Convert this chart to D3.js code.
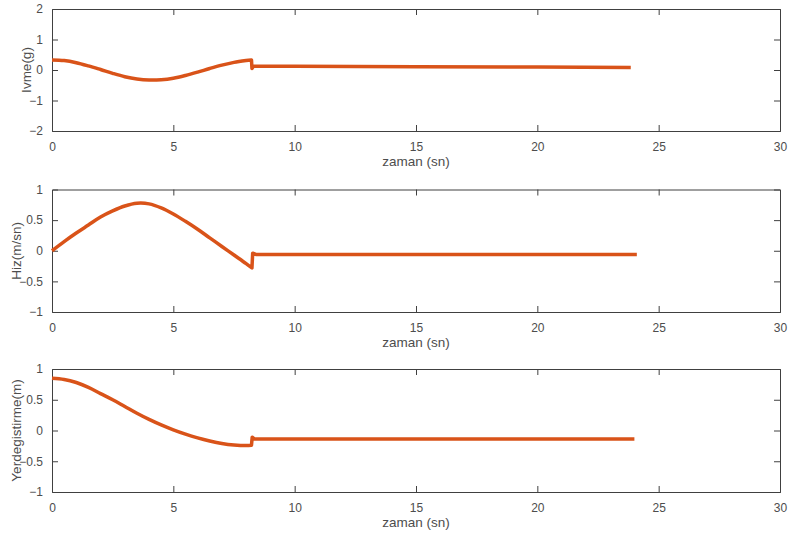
<!DOCTYPE html>
<html>
<head>
<meta charset="utf-8">
<script src="https://cdn.jsdelivr.net/npm/d3@7"></script>
<style>
  body { margin: 0; background: #fff; }
  text { font-family: "Liberation Sans", Arial, sans-serif; }
</style>
</head>
<body>
<div id="chart"></div>
<script>
// time axis
const xTicks = [0, 5, 10, 15, 20, 25, 30];

// Ivme (acceleration, g)
const accT = [0, 0.5, 1, 1.5, 2, 2.5, 3, 3.5, 4, 4.5, 5, 5.5, 6, 6.5, 7, 7.5, 8, 8.22, 8.24, 8.3, 10, 15, 20, 23.85];
const accV = [0.33, 0.31, 0.24, 0.135, 0.015, -0.11, -0.22, -0.295, -0.33, -0.32, -0.27, -0.18, -0.07, 0.05, 0.16, 0.25, 0.31, 0.33, 0.05, 0.12, 0.12, 0.11, 0.1, 0.08];

// Hiz (velocity, m/sn)
const velT = [0, 0.5, 1, 1.5, 2, 2.5, 3, 3.5, 4, 4.5, 5, 5.5, 6, 6.5, 7, 7.5, 8, 8.24, 8.27, 8.4, 15, 24.1];
const velV = [0.0, 0.15, 0.29, 0.42, 0.55, 0.65, 0.73, 0.775, 0.765, 0.70, 0.60, 0.48, 0.35, 0.21, 0.07, -0.07, -0.21, -0.28, -0.04, -0.06, -0.06, -0.06];

// Yerdegistirme (displacement, m)
const disT = [0, 0.5, 1, 1.5, 2, 2.5, 3, 3.5, 4, 4.5, 5, 5.5, 6, 6.5, 7, 7.5, 8, 8.22, 8.25, 8.35, 15, 24.0];
const disV = [0.85, 0.83, 0.78, 0.70, 0.60, 0.50, 0.39, 0.28, 0.18, 0.09, 0.01, -0.06, -0.12, -0.17, -0.21, -0.235, -0.245, -0.24, -0.11, -0.14, -0.14, -0.14];

// index of the last point before the jump at ~8.2 s (smooth part ends there)
const jumpIndex = 17;

const panels = [
  { t: accT, v: accV, domain: [-2, 2], ticks: [-2, -1, 0, 1, 2], label: "Ivme(g)", top: 9, bottom: 131, labelX: 31 },
  { t: velT, v: velV, domain: [-1, 1], ticks: [-1, -0.5, 0, 0.5, 1], label: "Hiz(m/sn)", top: 189.5, bottom: 312, labelX: 21 },
  { t: disT, v: disV, domain: [-1, 1], ticks: [-1, -0.5, 0, 0.5, 1], label: "Yerdegistirme(m)", top: 369, bottom: 492, labelX: 21 }
];

const width = 790, height = 540;
const left = 52, right = 780;
const axisColor = "#404040";
const textColor = "#4d4d4d";
const tickLen = 6;

const svg = d3.select("#chart").append("svg")
  .attr("width", width)
  .attr("height", height);

const x = d3.scaleLinear().domain([0, 30]).range([left, right]);

panels.forEach(p => {
  const y = d3.scaleLinear().domain(p.domain).range([p.bottom, p.top]);
  const g = svg.append("g");

  // bottom axis with tick labels
  const xb = g.append("g")
    .attr("transform", `translate(0,${p.bottom})`)
    .call(d3.axisBottom(x).tickValues(xTicks).tickSize(-tickLen).tickPadding(11).tickFormat(d3.format("d")));
  // top mirrored ticks
  const xt = g.append("g")
    .attr("transform", `translate(0,${p.top})`)
    .call(d3.axisTop(x).tickValues(xTicks).tickSize(-tickLen).tickFormat(""));
  // left axis
  const yl = g.append("g")
    .attr("transform", `translate(${left},0)`)
    .call(d3.axisLeft(y).tickValues(p.ticks).tickSize(-tickLen).tickPadding(9).tickFormat(d3.format("")));
  // right mirrored ticks
  const yr = g.append("g")
    .attr("transform", `translate(${right},0)`)
    .call(d3.axisRight(y).tickValues(p.ticks).tickSize(-tickLen).tickFormat(""));

  [xb, xt, yl, yr].forEach(a => {
    a.select(".domain").attr("stroke", axisColor).attr("stroke-width", 1);
    a.selectAll(".tick line").attr("stroke", axisColor);
    a.selectAll(".tick text").attr("fill", textColor).attr("font-size", 12)
      .attr("font-family", "Liberation Sans, Arial, sans-serif");
  });
  // hide end ticks at the corners so the box stays clean
  [xb, xt].forEach(a => a.selectAll(".tick line").filter(d => d === 0 || d === 30).remove());
  [yl, yr].forEach(a => a.selectAll(".tick line").filter(d => d === p.domain[0] || d === p.domain[1]).remove());

  // line: smooth curve up to the jump, straight segments after it
  const pts = p.t.map((t, i) => [t, p.v[i]]);
  const smoothLine = d3.line().x(d => x(d[0])).y(d => y(d[1])).curve(d3.curveCatmullRom.alpha(0.5));
  const straightLine = d3.line().x(d => x(d[0])).y(d => y(d[1]));
  const dSmooth = smoothLine(pts.slice(0, jumpIndex + 1));
  const dRest = straightLine(pts.slice(jumpIndex)).replace(/^M/, "L");
  g.append("path")
    .attr("fill", "none")
    .attr("stroke", "#D95319")
    .attr("stroke-width", 3.5)
    .attr("stroke-linejoin", "round")
    .attr("d", dSmooth + dRest);

  // x label
  g.append("text")
    .attr("x", (left + right) / 2)
    .attr("y", p.bottom + 35)
    .attr("text-anchor", "middle")
    .attr("fill", textColor)
    .attr("font-size", 13.5)
    .text("zaman (sn)");

  // y label
  g.append("text")
    .attr("transform", `translate(${p.labelX},${(p.top + p.bottom) / 2}) rotate(-90)`)
    .attr("text-anchor", "middle")
    .attr("fill", textColor)
    .attr("font-size", 13.5)
    .text(p.label);
});
</script>
</body>
</html>
